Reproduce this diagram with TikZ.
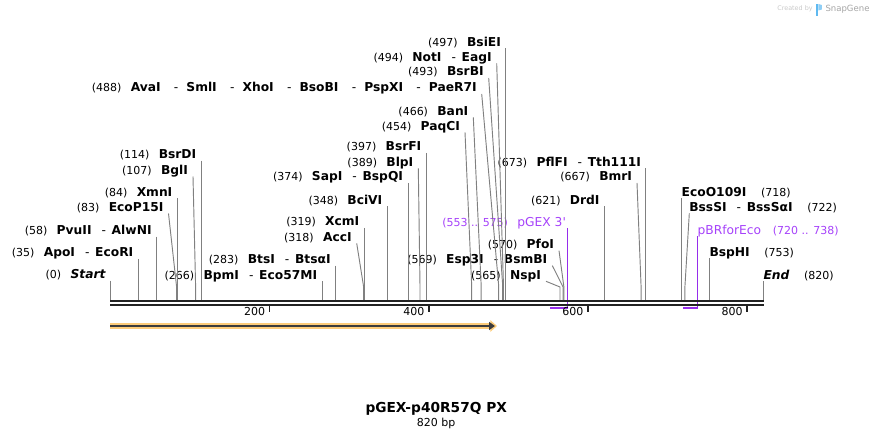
\documentclass[tikz,border=0pt]{standalone}
\usepackage{fontspec}
\setmainfont{DejaVu Sans}
\usepackage{tikz}
\usetikzlibrary{arrows.meta, calc}
\definecolor{siteGray}{RGB}{128,128,128}
\definecolor{backboneDark}{RGB}{34,34,34}
\definecolor{primerPurple}{RGB}{150,45,235}
\definecolor{primerText}{RGB}{165,65,250}
\definecolor{featOrange}{RGB}{253,204,122}
\definecolor{featDark}{RGB}{60,60,60}
\definecolor{logoGray}{RGB}{165,165,165}
\definecolor{logoBlue}{RGB}{95,185,240}
\newcommand{\numtxt}[1]{{\fontsize{8.25pt}{10pt}\selectfont #1}}
\newcommand{\enz}[1]{{\fontsize{9.2pt}{11pt}\selectfont\bfseries #1}}
\newcommand{\enzsep}{\hspace{7.5pt}{\mdseries -}\hspace{4.3pt}}
\newcommand{\enzwide}{\hspace{10pt}{\mdseries -}\hspace{6pt}}

\begin{document}
\begin{tikzpicture}[x=0.75pt, y=-0.75pt,
  lbl/.style={anchor=south east, inner xsep=3.75pt, inner ysep=1.7pt, text depth=0pt, outer sep=0pt},
  rlbl/.style={anchor=south west, inner xsep=0pt, inner ysep=1.7pt, text depth=0pt, outer sep=0pt},
  cutline/.style={draw=siteGray, line width=0.7pt},
  bbline/.style={draw=backboneDark, line width=1.6pt},
  tick/.style={draw=backboneDark, line width=1.2pt},
  ticklbl/.style={anchor=base east, inner sep=0pt, font=\fontsize{8.25pt}{10pt}\selectfont},
  primer/.style={draw=primerPurple, line width=0.75pt},
  primerbar/.style={draw=primerPurple, line width=1.5pt},
  featband/.style={draw=featOrange, line width=4.5pt, -{Triangle[length=5pt,width=8.5pt]}},
  featline/.style={draw=featDark, line width=1.2pt, -{Triangle[length=4.5pt,width=6pt]}}]
\useasboundingbox (0,0) rectangle (874,438);

% cut sites on the backbone
\coordinate (s0) at (110.5,300);
\coordinate (s35) at (138.3,300);
\coordinate (s58) at (156.6,300);
\coordinate (s83) at (176.5,300);
\coordinate (s84) at (177.3,300);
\coordinate (s107) at (195.6,300);
\coordinate (s114) at (201.2,300);
\coordinate (s266) at (322.1,300);
\coordinate (s283) at (335.6,300);
\coordinate (s318) at (363.5,300);
\coordinate (s319) at (364.3,300);
\coordinate (s348) at (387.3,300);
\coordinate (s374) at (408.0,300);
\coordinate (s389) at (420.0,300);
\coordinate (s397) at (426.3,300);
\coordinate (s454) at (471.7,300);
\coordinate (s466) at (481.2,300);
\coordinate (s488) at (498.7,300);
\coordinate (s493) at (502.7,300);
\coordinate (s494) at (503.5,300);
\coordinate (s497) at (505.9,300);
\coordinate (s565) at (560.0,300);
\coordinate (s569) at (563.1,300);
\coordinate (s570) at (563.9,300);
\coordinate (s621) at (604.5,300);
\coordinate (s667) at (641.1,300);
\coordinate (s673) at (645.9,300);
\coordinate (s718) at (681.7,300);
\coordinate (s722) at (684.9,300);
\coordinate (s753) at (709.5,300);
\coordinate (s820) at (763.5,300);
% primer bars
\coordinate (b553) at (550.4,308.3);
\coordinate (b575) at (567.9,308.3);
\coordinate (b720) at (683.3,308.3);
\coordinate (b738) at (697.6,308.3);
% feature arrow
\coordinate (f0) at (110,326);
\coordinate (fo) at (497,326);
\coordinate (fd) at (495,326);

% labels, left of their line
\node[lbl] (Start) at (110.5,280.5) {\numtxt{(0)}\hspace{7pt}\enz{\itshape Start}};
\node[lbl] (ApoI) at (138.3,259) {\numtxt{(35)}\hspace{7pt}\enz{ApoI\enzsep EcoRI}};
\node[lbl] (PvuII) at (156.6,236.6) {\numtxt{(58)}\hspace{7pt}\enz{PvuII\enzsep AlwNI}};
\node[lbl] (EcoP15I) at (168.5,213.5) {\numtxt{(83)}\hspace{7pt}\enz{EcoP15I}};
\node[lbl] (XmnI) at (177.3,198.3) {\numtxt{(84)}\hspace{7pt}\enz{XmnI}};
\node[lbl] (BglI) at (193,176.5) {\numtxt{(107)}\hspace{7pt}\enz{BglI}};
\node[lbl] (BsrDI) at (201.2,160.6) {\numtxt{(114)}\hspace{7pt}\enz{BsrDI}};
\node[lbl] (BpmI) at (322.1,281.3) {\numtxt{(266)}\hspace{7pt}\enz{BpmI\enzsep Eco57MI}};
\node[lbl] (BtsI) at (335.6,265.6) {\numtxt{(283)}\hspace{7pt}\enz{BtsI\enzsep BtsαI}};
\node[lbl] (AccI) at (356.7,243.3) {\numtxt{(318)}\hspace{7pt}\enz{AccI}};
\node[lbl] (XcmI) at (364.3,228) {\numtxt{(319)}\hspace{7pt}\enz{XcmI}};
\node[lbl] (BciVI) at (387.3,206.3) {\numtxt{(348)}\hspace{7pt}\enz{BciVI}};
\node[lbl] (SapI) at (408,183) {\numtxt{(374)}\hspace{7pt}\enz{SapI\enzsep BspQI}};
\node[lbl] (BlpI) at (418.3,168.3) {\numtxt{(389)}\hspace{7pt}\enz{BlpI}};
\node[lbl] (BsrFI) at (426.3,153) {\numtxt{(397)}\hspace{7pt}\enz{BsrFI}};
\node[lbl] (PaqCI) at (465,132.3) {\numtxt{(454)}\hspace{7pt}\enz{PaqCI}};
\node[lbl] (BanI) at (473.3,117.3) {\numtxt{(466)}\hspace{7pt}\enz{BanI}};
\node[lbl] (AvaI) at (481.7,94) {\numtxt{(488)}\hspace{7pt}\enz{AvaI\enzwide SmlI\enzwide XhoI\enzwide BsoBI\enzwide PspXI\enzwide PaeR7I}};
\node[lbl] (BsrBI) at (488.7,78) {\numtxt{(493)}\hspace{7pt}\enz{BsrBI}};
\node[lbl] (NotI) at (496.7,63.3) {\numtxt{(494)}\hspace{7pt}\enz{NotI\enzsep EagI}};
\node[lbl] (BsiEI) at (505.9,48.3) {\numtxt{(497)}\hspace{7pt}\enz{BsiEI}};
\node[lbl] (NspI) at (546,281.3) {\numtxt{(565)}\hspace{7pt}\enz{NspI}};
\node[lbl] (Esp3I) at (552.3,265.6) {\numtxt{(569)}\hspace{7pt}\enz{Esp3I\enzsep BsmBI}};
\node[lbl] (PfoI) at (559,250.6) {\numtxt{(570)}\hspace{7pt}\enz{PfoI}};
\node[lbl, inner xsep=1.5pt, text=primerText] (pGEX) at (567.9,228.3) {\numtxt{(553 .. 575)}\hspace{7pt}{\fontsize{9.2pt}{11pt}\selectfont pGEX 3\textquotesingle}};
\node[lbl] (DrdI) at (604.5,206.3) {\numtxt{(621)}\hspace{7pt}\enz{DrdI}};
\node[lbl] (BmrI) at (637,183) {\numtxt{(667)}\hspace{7pt}\enz{BmrI}};
\node[lbl] (PflFI) at (645.9,168.3) {\numtxt{(673)}\hspace{7pt}\enz{PflFI\enzsep Tth111I}};
% labels, right of their line
\node[rlbl] (EcoO109I) at (681.7,198.3) {\enz{EcoO109I}\hspace{11pt}\numtxt{(718)}};
\node[rlbl] (BssSI) at (689.3,213.3) {\enz{BssSI\enzsep BssSαI}\hspace{11pt}\numtxt{(722)}};
\node[rlbl, text=primerText] (pBR) at (697.6,236.3) {{\fontsize{9.2pt}{11pt}\selectfont pBRforEco}\hspace{8.8pt}\numtxt{(720 .. 738)}};
\node[rlbl] (BspHI) at (709.5,258.3) {\enz{BspHI}\hspace{11pt}\numtxt{(753)}};
\node[rlbl] (End) at (763.5,281.3) {\enz{\itshape End}\hspace{11pt}\numtxt{(820)}};

% connectors
\draw[cutline] (Start.south east) -- (s0);
\draw[cutline] (ApoI.south east) -- (s35);
\draw[cutline] (PvuII.south east) -- (s58);
\draw[cutline] (EcoP15I.south east) -- ($(s83)+(0,-14)$) -- (s83);
\draw[cutline] (XmnI.south east) -- (s84);
\draw[cutline] (BglI.south east) -- ($(s107)+(0,-14)$) -- (s107);
\draw[cutline] (BsrDI.south east) -- (s114);
\draw[cutline] (BpmI.south east) -- (s266);
\draw[cutline] (BtsI.south east) -- (s283);
\draw[cutline] (AccI.south east) -- ($(s318)+(0,-14)$) -- (s318);
\draw[cutline] (XcmI.south east) -- (s319);
\draw[cutline] (BciVI.south east) -- (s348);
\draw[cutline] (SapI.south east) -- (s374);
\draw[cutline] (BlpI.south east) -- ($(s389)+(0,-14)$) -- (s389);
\draw[cutline] (BsrFI.south east) -- (s397);
\draw[cutline] (PaqCI.south east) -- ($(s454)+(0,-14)$) -- (s454);
\draw[cutline] (BanI.south east) -- ($(s466)+(0,-14)$) -- (s466);
\draw[cutline] (AvaI.south east) -- ($(s488)+(0,-14)$) -- (s488);
\draw[cutline] (BsrBI.south east) -- ($(s493)+(0,-14)$) -- (s493);
\draw[cutline] (NotI.south east) -- ($(s494)+(0,-14)$) -- (s494);
\draw[cutline] (BsiEI.south east) -- (s497);
\draw[cutline] (NspI.south east) -- ($(s565)+(0,-13)$) -- (s565);
\draw[cutline] (Esp3I.south east) -- ($(s569)+(0,-13)$) -- (s569);
\draw[cutline] (PfoI.south east) -- ($(s570)+(0,-13)$) -- (s570);
\draw[cutline] (DrdI.south east) -- (s621);
\draw[cutline] (BmrI.south east) -- ($(s667)+(0,-13)$) -- (s667);
\draw[cutline] (PflFI.south east) -- (s673);
\draw[cutline] (EcoO109I.south west) -- (s718);
\draw[cutline] (BssSI.south west) -- ($(s722)+(0,-13)$) -- (s722);
\draw[cutline] (BspHI.south west) -- (s753);
\draw[cutline] (End.south west) -- (s820);

% primers
\draw[primer] (pGEX.south east) -- (b575);
\draw[primerbar] (b553) -- (b575);
\draw[primer] (pBR.south west) -- (b738);
\draw[primerbar] (b720) -- (b738);

% backbone and ruler
\draw[bbline] (110,301.2) -- (764,301.2);
\draw[bbline] (110,304.7) -- (764,304.7);
\draw[tick] (269.6,305.5) -- (269.6,312.3);
\draw[tick] (428.7,305.5) -- (428.7,312.3);
\draw[tick] (587.8,305.5) -- (587.8,312.3);
\draw[tick] (746.9,305.5) -- (746.9,312.3);
\node[ticklbl] (t200) at (265.5,315.7) {200};
\node[ticklbl] (t400) at (424.6,315.7) {400};
\node[ticklbl] (t600) at (583.7,315.7) {600};
\node[ticklbl] (t800) at (742.8,315.7) {800};

% feature
\draw[featband] (f0) -- (fo);
\draw[featline] (f0) -- (fd);

% title
\node[anchor=base, font=\fontsize{10.3pt}{12pt}\selectfont\bfseries] (title) at (436.2,412.3) {pGEX-p40R57Q PX};
\node[anchor=base, font=\fontsize{8.25pt}{10pt}\selectfont] (size) at (436.2,426) {820 bp};

% corner mark
\node[anchor=base, inner sep=0pt, text=logoGray!60, font=\fontsize{4.8pt}{6pt}\selectfont] (created) at (795,11) {Created by};
\fill[logoBlue] (816,4) rectangle (818.4,16.5);
\fill[logoBlue!70] (818.4,4) -- (821.8,5) -- (821.8,9.5) -- (818.4,10.5) -- cycle;
\node[anchor=base, inner sep=0pt, text=logoGray, font=\fontsize{6.4pt}{8pt}\selectfont] (snapgene) at (847.5,11.5) {SnapGene};
\end{tikzpicture}
\end{document}
